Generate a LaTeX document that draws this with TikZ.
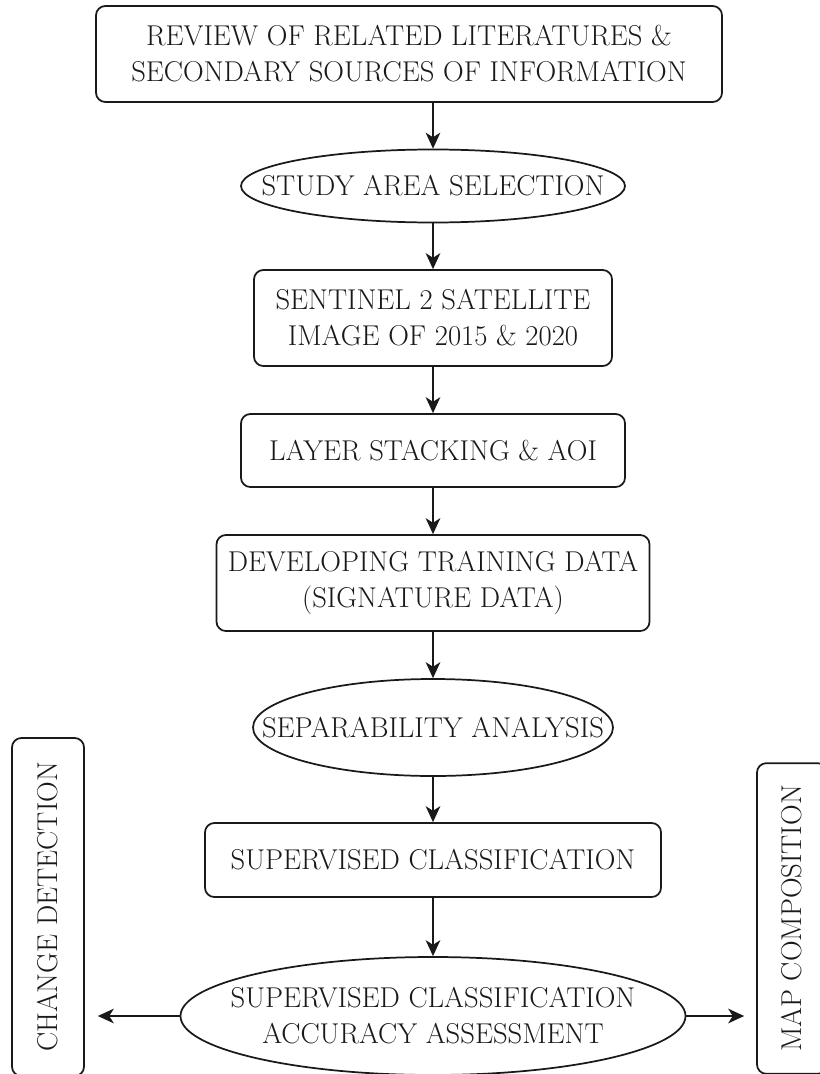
\documentclass[tikz,border=0pt]{standalone}
\usetikzlibrary{shapes.geometric,arrows.meta}

\begin{document}
\begin{tikzpicture}[x=0.75pt, y=-0.75pt,
    every node/.style={font=\fontsize{21.5}{27}\selectfont, text=black!90},
    stepbox/.style={rectangle, rounded corners=7pt, draw=black!90, line width=1.3pt, align=center, inner sep=0pt},
    oval/.style={ellipse, draw=black!90, line width=1.3pt, inner sep=0pt},
    arr/.style={-{Stealth[length=12pt, width=11pt, inset=3.5pt]}, line width=1.1pt, draw=black!90}]
    \useasboundingbox (0,0) rectangle (820,1074);
    \clip (0,0) rectangle (820,1074);

    % Main steps
    \node [stepbox, minimum width=469.5pt, minimum height=72pt] (review) at (409,54) {REVIEW OF RELATED LITERATURES \&\\SECONDARY SOURCES OF INFORMATION};
    \node [oval, minimum width=288pt, minimum height=54.75pt, label={center:STUDY AREA SELECTION}] (study) at (433,186) {};
    \node [stepbox, minimum width=268.5pt, minimum height=72pt] (sentinel) at (433,318) {SENTINEL 2 SATELLITE\\IMAGE OF 2015 \& 2020};
    \node [stepbox, minimum width=288pt, minimum height=54.75pt] (layer) at (433,450.5) {LAYER STACKING \& AOI};
    \node [stepbox, minimum width=324.75pt, minimum height=72pt] (training) at (433,583) {DEVELOPING TRAINING DATA\\(SIGNATURE DATA)};
    \node [oval, minimum width=270pt, minimum height=72.75pt, label={center:SEPARABILITY ANALYSIS}] (separ) at (433,727.5) {};
    \node [stepbox, minimum width=342pt, minimum height=55.5pt] (classif) at (433,860) {SUPERVISED CLASSIFICATION};
    \node [oval, minimum width=378.75pt, minimum height=88.5pt, label={[align=center]center:{SUPERVISED CLASSIFICATION\\ACCURACY ASSESSMENT}}] (accuracy) at (433,1016) {};

    % Outputs
    \node [stepbox, rotate=90, minimum width=253.5pt, minimum height=54pt] (change) at (48,907) {CHANGE DETECTION};
    \node [stepbox, rotate=90, minimum width=233pt, minimum height=52.5pt] (mapcomp) at (792,918.5) {MAP COMPOSITION};

    % Arrows
    \draw [arr] (study.north |- review.south) -- (study.north);
    \draw [arr] (study.south) -- (sentinel.north);
    \draw [arr] (sentinel.south) -- (layer.north);
    \draw [arr] (layer.south) -- (training.north);
    \draw [arr] (training.south) -- (separ.north);
    \draw [arr] (separ.south) -- (classif.north);
    \draw [arr] (classif.south) -- (accuracy.north);
    \draw [arr, shorten >=9.75pt] (accuracy.west) -- (change.south |- accuracy.west);
    \draw [arr, shorten >=9pt] (accuracy.east) -- (mapcomp.north |- accuracy.east);
\end{tikzpicture}
\end{document}
